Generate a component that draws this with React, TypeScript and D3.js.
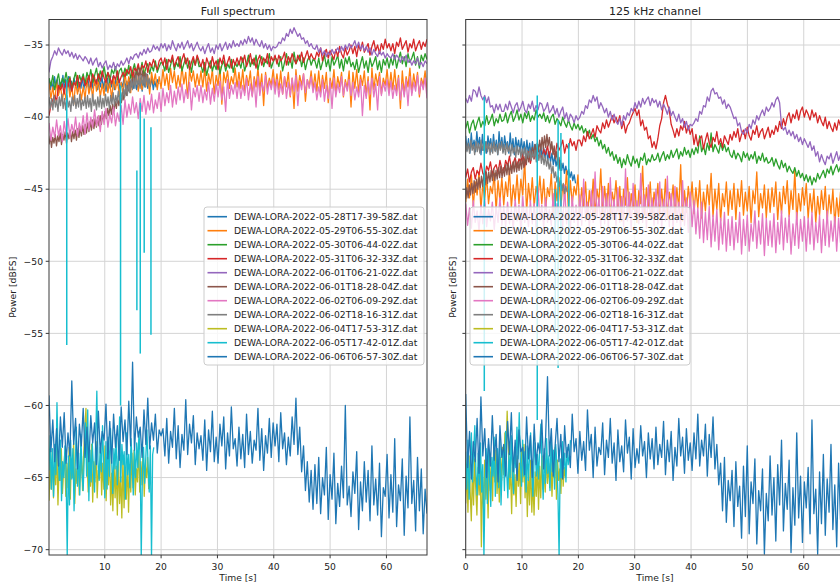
import React from 'react';
import * as d3 from 'd3';

// legend entries and tab10 colours (11th wraps to blue)
const fileNames = [
  'DEWA-LORA-2022-05-28T17-39-58Z.dat',
  'DEWA-LORA-2022-05-29T06-55-30Z.dat',
  'DEWA-LORA-2022-05-30T06-44-02Z.dat',
  'DEWA-LORA-2022-05-31T06-32-33Z.dat',
  'DEWA-LORA-2022-06-01T06-21-02Z.dat',
  'DEWA-LORA-2022-06-01T18-28-04Z.dat',
  'DEWA-LORA-2022-06-02T06-09-29Z.dat',
  'DEWA-LORA-2022-06-02T18-16-31Z.dat',
  'DEWA-LORA-2022-06-04T17-53-31Z.dat',
  'DEWA-LORA-2022-06-05T17-42-01Z.dat',
  'DEWA-LORA-2022-06-06T06-57-30Z.dat',
];
const colors = ['#1f77b4', '#ff7f0e', '#2ca02c', '#d62728', '#9467bd', '#8c564b', '#e377c2', '#7f7f7f', '#bcbd22', '#17becf', '#1f77b4'];

const yTicks = [-70, -65, -60, -55, -50, -45, -40, -35];
const xTicksFull = [10, 20, 30, 40, 50, 60];
const xTicksChan = [0, 10, 20, 30, 40, 50, 60];

// recording spans [start, end] in seconds, per file
const spansFull = [[0.1, 19.6], [0.1, 67.2], [0.1, 67.2], [0.1, 67.2], [0.1, 67.2], [0.1, 17.6], [0.1, 67.2], [0.1, 18.1], [0.1, 17.8], [0.1, 18.7], [0.1, 67.2]];
const spansChan = [[0, 19.5], [0, 67.2], [0, 67.2], [0, 67.2], [0, 67.2], [0, 17.0], [0, 67.2], [0, 18.0], [0, 17.7], [0, 18.6], [0, 67.2]];

// ---- Full spectrum power [dBFS] ----
const blueFull = [
  -37.3,-38.1,-37.5,-38.2,-37.2,-37.9,-37.4,-38.3,-37.6,-38.0,-37.1,-38.1,-37.4,-37.9,-37.2,-38.2,-37.5,-38.0,-37.3,-37.8,
  -37.4,-38.2,-37.6,-38.0,-37.2,-38.1,-37.5,-37.9,-37.3,-38.3,-37.6,-38.0,-37.2,-37.8,-37.4,-38.1,-37.5,-37.9,-37.1,-38.0,
  -37.5,-38.2,-37.3,-38.0,-37.6,-37.9,-37.2,-38.1,-37.4,-37.8,-37.3,-38.2,-37.6,-37.9,-37.2,-38.0,-37.5,-38.1,-37.3,-37.9,
  -37.4,-38.0,-37.2,-38.1,-37.6,-37.8,-37.3,-38.2,-37.5,-37.9,-37.2,-38.0,-37.4,-37.8,-37.3,-38.1,-37.5,-37.9,-37.4,-37.7];
const orangeFull = [
  -37.6,-38.7,-37.9,-39.0,-37.5,-38.5,-37.7,-38.9,-38.0,-38.8,-37.4,-38.6,-37.8,-39.1,-37.6,-38.4,-37.7,-38.8,-37.9,-38.7,
  -37.3,-38.4,-37.6,-38.7,-37.2,-38.2,-37.4,-38.6,-37.7,-38.5,-37.1,-38.3,-37.5,-38.8,-37.3,-38.1,-37.4,-38.5,-37.6,-38.4,
  -36.9,-38.0,-37.2,-38.3,-36.8,-37.8,-37.0,-38.2,-37.3,-38.1,-36.7,-37.9,-37.1,-38.4,-36.9,-37.7,-37.0,-38.1,-37.2,-38.0,
  -36.7,-37.8,-37.0,-38.1,-36.6,-37.6,-36.8,-38.0,-37.1,-37.9,-36.5,-37.7,-36.9,-38.7,-36.7,-37.5,-36.8,-37.9,-37.0,-37.8,
  -36.8,-37.9,-36.6,-38.2,-37.0,-37.7,-36.7,-38.4,-37.1,-37.8,-36.5,-39.1,-36.9,-37.6,-36.8,-38.0,-37.2,-37.7,-36.6,-37.9,
  -36.9,-38.0,-36.7,-38.3,-37.1,-37.8,-36.8,-38.5,-37.2,-37.9,-36.6,-38.1,-37.0,-39.2,-36.9,-38.0,-37.3,-37.8,-36.7,-38.0,
  -37.0,-38.1,-36.8,-38.4,-37.2,-37.9,-36.9,-38.6,-37.3,-39.4,-36.7,-38.2,-37.1,-37.8,-37.0,-38.9,-37.4,-37.9,-36.8,-38.1,
  -37.0,-38.2,-36.8,-38.3,-37.1,-38.0,-36.9,-39.0,-37.3,-38.0,-36.7,-38.4,-37.2,-37.9,-36.9,-38.6,-37.4,-38.0,-36.8,-39.3,
  -36.9,-38.0,-36.7,-38.3,-37.1,-37.8,-36.8,-38.5,-37.2,-39.5,-36.6,-38.1,-37.0,-37.8,-36.9,-38.4,-37.3,-37.8,-36.7,-38.2,
  -36.9,-38.1,-36.7,-38.2,-37.1,-39.4,-36.8,-38.4,-37.2,-37.9,-36.6,-38.3,-37.0,-37.9,-36.9,-38.6,-37.3,-37.8,-36.8,-38.2];
const greenFull = [
  -37.3,-37.8,-37.1,-38.1,-37.5,-37.0,-37.9,-37.3,-37.6,-36.9,-37.7,-37.2,-38.0,-37.4,-36.9,-37.8,-37.1,-37.5,-37.0,-37.7,
  -36.9,-37.4,-36.7,-37.6,-37.1,-36.6,-37.5,-36.8,-37.2,-36.5,-37.3,-36.9,-37.6,-36.7,-37.0,-36.5,-37.4,-36.8,-36.6,-37.2,
  -36.6,-37.1,-36.4,-37.3,-36.8,-36.3,-37.0,-36.5,-36.9,-36.2,-37.1,-36.6,-36.3,-37.0,-36.4,-36.8,-36.1,-36.9,-36.5,-36.2,
  -36.3,-36.8,-36.0,-36.9,-36.4,-35.9,-36.7,-36.2,-36.5,-35.8,-36.8,-36.3,-35.9,-36.6,-36.1,-36.9,-36.0,-36.4,-35.8,-36.5,
  -36.4,-36.9,-36.2,-37.1,-36.5,-36.1,-36.8,-36.3,-36.7,-36.0,-37.0,-36.4,-36.1,-36.8,-36.3,-36.6,-36.0,-36.9,-36.2,-36.5,
  -36.1,-36.6,-35.9,-36.8,-36.3,-35.7,-36.5,-36.0,-36.4,-35.7,-36.7,-36.1,-35.8,-36.5,-36.0,-36.3,-35.6,-36.6,-36.2,-35.9,
  -36.0,-36.5,-35.8,-36.8,-36.2,-35.6,-36.4,-35.9,-36.6,-35.5,-36.3,-36.0,-35.7,-36.5,-35.9,-36.7,-36.1,-35.8,-36.4,-36.0,
  -36.1,-36.6,-35.9,-36.7,-36.2,-35.7,-36.5,-36.0,-36.8,-35.8,-36.4,-36.1,-35.7,-36.6,-36.0,-36.8,-35.9,-36.3,-35.8,-36.5,
  -36.2,-36.7,-36.0,-36.9,-36.3,-35.8,-36.6,-36.1,-36.9,-35.9,-36.5,-36.2,-35.8,-36.7,-36.1,-36.9,-36.0,-36.4,-35.9,-36.6,
  -35.9,-36.4,-35.7,-36.6,-36.0,-35.5,-36.3,-35.8,-36.5,-35.6,-36.2,-35.9,-35.5,-36.4,-35.8,-36.6,-35.7,-36.1,-35.6,-36.0];
const redFull = [
  -39.9,-39.2,-38.8,-38.5,-38.9,-37.8,-38.1,-37.7,-38.4,-37.5,-37.9,-37.3,-38.2,-37.6,-37.8,-37.1,-37.9,-37.5,-37.2,-37.8,
  -37.6,-37.1,-37.9,-37.0,-37.4,-37.7,-37.0,-37.5,-36.8,-37.3,-37.6,-36.9,-37.2,-37.7,-37.1,-37.4,-36.8,-37.6,-37.2,-36.9,
  -37.2,-36.7,-37.0,-36.5,-37.3,-36.6,-36.8,-36.3,-37.0,-36.4,-36.6,-36.1,-36.9,-36.2,-36.5,-36.0,-36.4,-36.7,-36.1,-35.9,
  -36.4,-35.9,-36.7,-36.0,-36.2,-35.7,-36.5,-36.1,-35.8,-36.6,-36.0,-35.6,-36.3,-35.9,-36.7,-36.2,-35.8,-36.4,-35.7,-36.1,
  -36.5,-36.0,-36.8,-35.9,-36.3,-36.6,-35.8,-36.4,-36.1,-36.7,-35.9,-36.3,-35.7,-36.5,-36.2,-35.8,-36.6,-36.0,-36.4,-35.9,
  -36.4,-35.8,-36.2,-35.7,-36.5,-36.1,-35.6,-36.3,-35.9,-36.6,-36.0,-35.7,-36.4,-35.9,-36.2,-35.6,-36.5,-35.8,-36.1,-35.7,
  -36.3,-35.7,-36.1,-35.9,-35.5,-36.4,-35.8,-36.2,-35.6,-36.0,-36.3,-35.7,-36.1,-35.5,-36.2,-35.8,-35.4,-36.0,-35.6,-35.9,
  -36.0,-35.5,-35.8,-35.2,-36.1,-35.6,-35.3,-35.9,-35.4,-35.7,-36.0,-35.3,-35.8,-35.1,-35.6,-35.9,-35.2,-35.7,-35.4,-35.0,
  -35.6,-35.1,-35.8,-35.0,-35.4,-34.8,-35.5,-35.2,-34.9,-35.7,-35.1,-34.7,-35.4,-35.0,-35.6,-34.9,-35.3,-34.6,-35.2,-34.9,
  -35.4,-34.9,-35.6,-34.8,-35.1,-34.5,-35.3,-35.0,-34.7,-35.5,-34.9,-35.2,-34.6,-35.4,-35.0,-34.7,-35.3,-34.8,-35.1,-34.6];
const purpleFull = [
  -36.9,-36.1,-35.8,-35.4,-35.7,-35.2,-35.5,-35.7,-35.3,-35.6,-35.4,-35.8,-35.5,-35.9,-35.6,-36.0,-35.7,-35.9,-36.1,-35.8,
  -36.0,-36.3,-35.9,-36.4,-36.1,-35.9,-36.5,-36.2,-36.6,-36.3,-36.1,-36.7,-36.4,-36.6,-36.2,-36.7,-36.3,-36.5,-36.1,-36.4,
  -36.2,-35.9,-36.3,-35.8,-36.0,-35.7,-35.6,-35.9,-35.5,-35.7,-35.3,-35.6,-35.2,-35.5,-35.4,-35.0,-35.3,-35.1,-35.4,-34.9,
  -35.2,-34.9,-35.4,-35.0,-35.3,-34.7,-35.1,-35.4,-34.9,-35.2,-34.8,-35.3,-35.0,-34.7,-35.2,-34.9,-35.4,-35.1,-34.8,-35.2,
  -35.4,-35.1,-35.6,-35.2,-34.9,-35.5,-35.2,-35.6,-35.0,-35.3,-34.9,-35.4,-35.1,-34.8,-35.3,-34.9,-35.2,-34.7,-35.1,-34.9,
  -35.1,-34.7,-35.0,-34.6,-34.9,-34.4,-34.8,-34.5,-35.0,-34.6,-34.9,-35.1,-34.7,-35.2,-34.9,-35.3,-35.0,-35.4,-35.1,-35.2,
  -35.1,-34.8,-34.9,-34.5,-34.7,-34.2,-34.4,-33.9,-34.2,-33.8,-34.1,-34.4,-34.2,-34.6,-34.5,-34.9,-34.7,-35.1,-34.9,-35.2,
  -35.3,-35.0,-35.5,-35.2,-35.7,-35.4,-35.8,-35.5,-35.7,-35.3,-35.6,-35.4,-35.2,-35.5,-35.1,-35.4,-35.0,-35.3,-34.9,-35.2,
  -35.0,-34.7,-35.2,-34.8,-35.3,-35.0,-35.4,-35.1,-35.5,-35.2,-35.7,-35.3,-35.6,-35.8,-35.4,-35.7,-35.5,-35.9,-35.6,-35.8,
  -35.9,-35.6,-36.0,-35.7,-35.9,-36.2,-35.8,-36.1,-35.7,-36.2,-36.0,-36.4,-36.1,-36.3,-35.9,-36.4,-36.2,-36.5,-36.1,-36.3];
const brownFull = [
  -41.9,-41.3,-42.1,-41.4,-41.8,-41.2,-42.0,-41.3,-41.7,-41.1,-41.9,-41.2,-41.6,-41.0,-41.8,-41.1,-41.5,-40.9,-41.7,-41.0,
  -41.5,-40.9,-41.6,-40.8,-41.4,-40.7,-41.3,-40.6,-41.2,-40.5,-41.1,-40.4,-41.0,-40.3,-40.9,-40.2,-40.8,-40.1,-40.7,-40.0,
  -40.6,-39.9,-40.5,-39.8,-40.3,-39.6,-40.1,-39.4,-39.9,-39.2,-39.8,-39.1,-39.6,-38.9,-39.4,-38.7,-39.2,-38.5,-39.0,-38.3,
  -38.8,-38.1,-38.5,-37.8,-38.2,-37.5,-37.9,-37.2,-37.6,-36.9,-37.4,-36.7,-37.3,-36.6,-37.4,-36.8,-37.5,-36.9,-37.4,-37.0];
const pinkFull = [
  -40.4,-41.6,-40.7,-41.4,-40.2,-41.3,-40.6,-41.7,-40.3,-41.2,-40.1,-41.4,-40.5,-41.1,-40.0,-41.3,-40.4,-41.0,-39.9,-41.2,
  -39.7,-40.9,-40.0,-40.7,-39.5,-40.6,-39.9,-41.0,-39.6,-40.5,-39.4,-40.7,-39.8,-40.4,-39.3,-40.6,-39.7,-40.3,-39.2,-40.5,
  -38.8,-40.0,-39.1,-39.8,-38.6,-39.7,-39.0,-40.1,-38.7,-39.6,-38.5,-39.8,-38.9,-39.5,-38.4,-39.7,-38.8,-39.4,-38.3,-39.6,
  -38.0,-39.2,-38.3,-39.0,-37.8,-39.3,-38.2,-39.1,-37.9,-38.8,-37.7,-39.0,-38.1,-38.7,-37.6,-39.5,-38.0,-38.6,-37.8,-38.9,
  -37.8,-39.0,-38.1,-38.8,-37.6,-39.1,-38.0,-38.9,-37.7,-38.6,-37.5,-38.8,-37.9,-39.6,-37.4,-38.7,-37.8,-38.4,-37.6,-38.7,
  -37.5,-38.7,-37.8,-38.5,-37.3,-38.8,-37.7,-38.6,-37.4,-39.3,-37.2,-38.5,-37.6,-38.2,-37.1,-38.4,-37.5,-38.1,-37.3,-38.4,
  -37.4,-38.6,-37.7,-38.4,-37.2,-38.7,-37.6,-38.5,-37.3,-38.2,-37.1,-39.2,-37.5,-38.1,-37.0,-38.3,-37.4,-38.0,-37.2,-38.3,
  -37.6,-38.8,-37.9,-38.6,-37.4,-38.9,-37.8,-38.7,-37.5,-39.4,-37.3,-38.6,-37.7,-38.3,-37.2,-38.5,-37.6,-38.2,-37.4,-38.5,
  -37.6,-38.8,-37.9,-38.6,-37.4,-39.9,-37.8,-38.7,-37.5,-38.4,-37.3,-38.6,-37.7,-39.5,-37.2,-38.5,-37.6,-38.2,-37.4,-38.5,
  -37.5,-38.7,-37.8,-38.5,-37.3,-38.8,-37.7,-38.6,-37.4,-39.2,-37.2,-38.5,-37.6,-38.2,-37.1,-38.4,-37.5,-38.1,-37.3,-38.7];
const grayFull = [
  -38.6,-39.4,-38.7,-39.5,-38.5,-39.3,-38.8,-39.6,-38.6,-39.2,-38.4,-39.4,-38.7,-39.5,-38.5,-39.3,-38.9,-39.6,-38.6,-39.2,
  -38.5,-39.4,-38.7,-39.3,-38.4,-39.5,-38.8,-39.2,-38.6,-39.4,-38.5,-39.3,-38.7,-39.6,-38.4,-39.2,-38.8,-39.5,-38.6,-39.3,
  -38.5,-39.4,-38.7,-39.3,-38.4,-39.2,-38.6,-39.4,-38.5,-39.1,-38.3,-39.2,-38.5,-39.0,-38.2,-38.9,-38.3,-38.8,-38.0,-38.6,
  -37.8,-38.5,-37.6,-38.3,-37.4,-38.1,-37.3,-38.0,-37.1,-37.9,-37.2,-38.0,-37.1,-37.8,-37.2,-37.9,-37.0,-37.8,-37.3,-37.9];
const oliveFull = [
  -66.6,-63.9,-65.8,-63.2,-66.4,-64.1,-65.5,-62.8,-66.9,-64.3,-65.2,-63.0,-66.1,-64.6,-63.4,
  -66.3,-64.0,-65.7,-62.9,-66.5,-63.7,-65.0,-62.6,-66.8,-64.4,-65.4,-63.1,-66.2,-64.8,-63.5,
  -65.9,-63.3,-61.6,-60.2,-63.8,-66.0,-64.2,-65.6,-62.7,-66.7,-63.9,-65.3,-62.5,-66.4,-64.5,
  -65.1,-63.0,-66.2,-64.0,-65.8,-62.8,-66.6,-63.6,-65.5,-63.2,-66.9,-64.7,-67.3,-63.9,-66.4,
  -64.2,-67.6,-63.5,-66.8,-64.9,-67.8,-63.7,-67.1,-64.4,-66.5,-63.8,-67.4,-64.1,-66.0,-63.3,
  -65.7,-63.1,-66.2,-64.4,-65.3,-62.6,-66.0,-63.9,-65.5,-62.9,-66.3,-64.2,-65.0,-63.6,-65.8];
const cyanFull = [
  -64.5,-62.1,-65.8,-63.0,-66.3,-62.7,-64.8,-59.8,-63.6,-65.2,-62.4,-66.6,-63.9,-65.0,-62.8,
  -64.7,-70.4,-63.5,-66.9,-62.4,-65.1,-63.0,-67.3,-64.2,-61.5,-65.6,-63.3,-66.2,-62.0,-64.7,
  -65.9,-63.5,-61.2,-64.9,-60.3,-66.6,-63.1,-65.3,-62.6,-64.4,-66.0,-62.3,-59.0,-63.8,-65.2,
  -62.9,-64.6,-61.4,-63.9,-66.4,-62.5,-65.8,-62.2,-64.9,-61.6,-63.7,-66.1,-63.0,-64.4,-62.0,
  -65.5,-63.6,-60.8,-65.3,-62.7,-64.1,-63.2,-66.5,-61.9,-64.8,-63.4,-65.7,-62.3,-64.0,-66.2,
  -63.1,-65.0,-62.6,-64.3,-61.8,-63.5,-70.5,-64.7,-62.9,-65.4,-63.6,-61.7,-64.2,-66.0,-62.8,
  -70.5,-63.4,-62.9];
const blue2Full = [
  -59.3,-63.2,-61.0,-63.9,-61.6,-64.2,-60.8,-62.9,-60.5,-64.0,-61.9,-63.5,-58.3,-62.7,-60.9,-64.4,-61.3,-62.8,-60.2,-63.6,
  -61.5,-63.9,-60.7,-62.6,-61.2,-64.1,-60.4,-63.3,-61.8,-62.4,-59.9,-63.7,-61.1,-64.0,-60.6,-62.9,-61.4,-63.8,-60.1,-62.5,
  -61.0,-63.4,-59.7,-62.8,-57.0,-63.1,-60.8,-62.2,-61.5,-63.6,-60.3,-62.7,-59.5,-63.0,-61.2,-62.4,-60.6,-63.3,-61.7,-62.1,
  -61.6,-63.5,-60.9,-64.0,-61.8,-62.9,-60.2,-63.7,-61.4,-64.3,-62.0,-63.1,-59.6,-63.4,-61.3,-62.6,-60.7,-64.1,-61.9,-63.0,
  -62.1,-63.8,-61.0,-64.5,-61.7,-63.2,-60.4,-63.9,-62.2,-64.0,-61.3,-62.8,-60.8,-64.4,-61.9,-63.5,-60.1,-63.0,-62.3,-64.2,
  -61.5,-63.7,-62.0,-64.3,-60.6,-63.4,-61.8,-64.0,-62.4,-63.1,-60.2,-63.8,-61.6,-64.5,-62.1,-63.3,-60.9,-63.6,-61.2,-62.8,
  -61.3,-63.9,-60.5,-63.0,-61.9,-64.1,-62.2,-63.5,-60.8,-62.7,-59.5,-63.4,-61.5,-64.6,-62.8,-65.9,-63.9,-66.7,-64.5,-67.2,
  -64.1,-66.8,-63.6,-67.5,-65.0,-66.2,-62.9,-67.9,-64.8,-66.5,-63.3,-68.2,-65.4,-67.0,-64.2,-66.4,-60.0,-66.9,-65.6,-67.7,
  -64.6,-66.1,-63.2,-68.6,-65.3,-67.3,-63.9,-66.7,-64.5,-68.0,-62.8,-66.9,-65.1,-67.6,-64.0,-69.1,-65.7,-66.3,-63.4,-67.8,
  -64.8,-67.4,-62.3,-68.4,-65.5,-66.6,-63.7,-69.0,-64.9,-67.1,-60.8,-66.8,-65.2,-68.7,-63.6,-67.3,-64.4,-68.9,-65.8,-67.5];
// short cyan bursts: time, top and bottom of the burst [dBFS]
const burstsFull = [
  { t: 3.25, hi: -37.4, lo: -55.8 },
  { t: 12.8, hi: -37.8, lo: -60.0 },
  { t: 15.7, hi: -43.7, lo: -53.4 },
  { t: 16.3, hi: -39.0, lo: -56.4 },
  { t: 17.0, hi: -40.1, lo: -49.4 },
  { t: 18.2, hi: -40.7, lo: -55.1 },
];

// ---- 125 kHz channel power [dBFS] ----
const blueChan = [
  -41.3,-42.3,-41.5,-42.5,-41.1,-42.2,-41.6,-42.4,-41.0,-42.1,-41.4,-42.6,-41.2,-42.3,-41.7,-42.5,-41.3,-42.0,-41.5,-42.4,
  -41.2,-42.3,-41.6,-42.6,-41.0,-42.2,-41.4,-42.4,-41.3,-42.1,-41.7,-42.5,-41.1,-42.3,-41.5,-42.6,-41.4,-42.2,-41.6,-42.4,
  -41.5,-42.4,-41.7,-42.6,-41.6,-42.5,-41.8,-42.7,-41.7,-42.6,-41.9,-42.8,-41.9,-42.7,-42.0,-42.9,-42.1,-42.8,-42.2,-43.0,
  -42.4,-43.1,-42.5,-43.3,-42.7,-43.4,-42.9,-43.6,-43.0,-43.7,-43.2,-43.9,-43.4,-44.0,-43.6,-44.2,-43.8,-44.4,-44.0,-44.6];
const orangeChan = [
  -45.9,-44.3,-45.6,-44.0,-46.2,-44.5,-45.4,-43.8,-46.4,-44.6,-45.7,-44.1,-46.0,-44.8,-45.3,-43.9,-46.5,-44.4,-45.8,-44.2,
  -46.1,-44.5,-45.5,-43.6,-46.3,-44.7,-45.8,-44.0,-46.0,-44.3,-45.4,-42.9,-46.6,-44.6,-45.9,-44.2,-46.2,-44.8,-45.6,-44.1,
  -46.0,-44.3,-46.4,-44.9,-45.5,-43.9,-46.7,-44.5,-45.8,-44.2,-46.3,-44.7,-45.6,-43.7,-46.5,-44.4,-46.0,-44.8,-45.4,-44.0,
  -46.6,-44.9,-46.2,-44.5,-47.0,-45.1,-46.4,-44.3,-46.8,-45.0,-45.9,-43.6,-46.7,-44.8,-46.3,-44.6,-47.1,-45.2,-46.0,-44.4,
  -46.5,-44.8,-47.2,-45.0,-46.1,-44.2,-46.9,-45.3,-46.4,-44.7,-47.3,-45.1,-46.0,-43.4,-46.8,-44.9,-46.3,-44.5,-47.0,-45.2,
  -46.2,-44.6,-46.9,-45.0,-46.5,-44.3,-47.1,-45.2,-46.0,-44.7,-46.8,-44.9,-46.4,-43.3,-47.2,-45.1,-46.6,-44.8,-46.1,-44.5,
  -46.7,-44.9,-46.3,-44.4,-47.0,-45.2,-46.5,-44.7,-46.1,-43.9,-46.9,-45.0,-46.4,-44.6,-47.2,-45.3,-46.2,-44.5,-46.8,-45.1,
  -46.4,-44.6,-47.1,-45.0,-46.2,-44.4,-46.8,-45.2,-46.5,-44.8,-47.3,-45.1,-46.0,-43.8,-46.9,-45.3,-46.3,-44.7,-47.0,-45.0,
  -46.6,-44.9,-46.2,-44.5,-47.1,-45.2,-46.7,-44.8,-46.0,-44.4,-46.9,-45.1,-46.4,-43.7,-47.2,-45.3,-46.5,-44.9,-46.1,-44.6,
  -47.0,-45.3,-46.6,-45.0,-47.3,-45.5,-46.8,-45.1,-46.4,-44.8,-47.2,-45.4,-46.7,-45.0,-47.5,-45.6,-46.9,-45.2,-46.5,-45.1];
const greenChan = [
  -40.8,-40.3,-41.1,-40.5,-40.2,-40.9,-40.4,-40.0,-40.7,-40.3,-40.6,-39.9,-40.5,-40.2,-39.8,-40.6,-40.1,-40.4,-39.8,-40.3,
  -40.2,-39.7,-40.4,-39.9,-39.6,-40.3,-40.0,-39.5,-40.2,-39.8,-40.4,-39.7,-40.1,-39.6,-40.3,-39.9,-40.2,-39.5,-40.0,-39.8,
  -40.1,-39.7,-40.3,-39.9,-40.4,-40.0,-39.8,-40.5,-40.1,-40.3,-40.6,-40.0,-40.4,-40.7,-40.2,-40.6,-40.9,-40.4,-40.8,-40.5,
  -40.9,-40.6,-41.1,-40.8,-41.3,-40.9,-41.5,-41.2,-41.7,-41.4,-42.0,-41.6,-42.2,-41.9,-42.5,-42.1,-42.7,-42.4,-43.0,-42.6,
  -43.2,-42.8,-43.5,-42.9,-43.3,-42.6,-43.1,-43.4,-42.7,-43.2,-42.9,-43.5,-42.8,-43.0,-42.5,-43.3,-42.9,-43.1,-42.6,-43.0,
  -42.9,-42.5,-43.1,-42.7,-42.4,-43.0,-42.6,-42.9,-42.3,-42.8,-42.5,-42.2,-42.9,-42.4,-42.7,-42.1,-42.6,-42.3,-42.8,-42.2,
  -42.6,-42.1,-42.5,-41.3,-42.4,-42.0,-42.6,-41.8,-42.3,-41.1,-42.4,-41.9,-42.2,-42.5,-41.8,-42.3,-41.9,-42.4,-42.1,-42.6,
  -42.8,-42.3,-42.9,-42.5,-42.7,-43.1,-42.4,-42.8,-42.5,-43.0,-42.6,-42.9,-42.4,-43.2,-42.7,-43.0,-42.5,-43.1,-42.8,-43.2,
  -43.1,-42.8,-43.4,-42.9,-43.3,-43.6,-43.0,-43.5,-43.2,-43.8,-43.4,-43.7,-43.9,-43.5,-44.1,-43.7,-44.2,-43.9,-44.4,-44.0,
  -44.5,-44.1,-44.7,-44.2,-44.5,-43.9,-44.3,-44.0,-43.7,-44.2,-43.6,-43.9,-43.4,-44.0,-43.6,-43.3,-43.8,-43.4,-43.7,-43.3];
const redChan = [
  -44.2,-43.6,-44.5,-43.8,-43.5,-44.3,-43.7,-44.0,-43.2,-43.9,-44.2,-43.4,-43.7,-43.1,-44.0,-43.5,-43.3,-43.9,-43.0,-43.6,
  -43.8,-43.0,-43.4,-42.7,-43.6,-43.2,-42.8,-43.5,-42.9,-43.1,-42.5,-43.4,-42.8,-42.4,-43.2,-42.6,-42.9,-42.3,-42.8,-42.5,
  -42.9,-42.2,-42.6,-42.0,-42.8,-41.9,-42.4,-42.7,-41.8,-42.3,-42.0,-41.6,-42.5,-41.9,-42.2,-41.5,-42.0,-41.7,-42.3,-41.6,
  -41.6,-42.0,-41.3,-41.7,-41.0,-41.5,-41.2,-40.8,-41.4,-40.6,-40.9,-41.1,-40.4,-40.8,-40.2,-40.7,-40.3,-39.9,-40.4,-40.0,
  -40.4,-39.9,-40.8,-40.3,-41.1,-40.6,-40.4,-40.0,-39.7,-39.4,-39.9,-39.5,-40.6,-40.2,-40.9,-40.7,-41.5,-41.3,-42.1,-41.7,
  -42.2,-41.5,-40.6,-40.1,-39.0,-38.5,-39.1,-39.5,-40.5,-40.9,-41.4,-40.8,-41.3,-40.6,-40.9,-40.3,-41.1,-40.6,-41.2,-40.8,
  -41.9,-41.2,-42.0,-41.5,-41.3,-42.2,-41.6,-41.1,-41.8,-42.1,-41.4,-41.7,-41.0,-41.9,-41.5,-42.1,-41.3,-41.6,-41.9,-41.2,
  -41.6,-41.0,-41.4,-40.8,-41.7,-41.2,-40.9,-41.5,-40.7,-41.3,-41.6,-40.9,-41.2,-40.6,-41.4,-41.0,-40.8,-41.5,-41.1,-40.7,
  -41.4,-40.9,-41.2,-40.6,-41.0,-40.3,-40.8,-40.1,-40.6,-40.0,-39.7,-40.4,-39.8,-40.1,-39.5,-40.2,-39.6,-39.3,-40.0,-39.5,
  -39.8,-40.2,-39.5,-40.0,-39.7,-40.4,-39.9,-40.3,-40.6,-40.0,-40.8,-40.3,-40.7,-41.0,-40.4,-40.9,-40.2,-40.6,-40.9,-40.3];
const purpleChan = [
  -38.7,-39.0,-38.5,-38.9,-38.1,-38.2,-38.6,-37.9,-38.5,-38.8,-38.5,-39.0,-38.6,-39.3,-39.2,-39.7,-39.1,-39.5,-39.1,-39.6,
  -39.6,-39.1,-39.5,-38.9,-39.3,-39.7,-39.2,-39.0,-39.6,-39.3,-38.9,-39.5,-39.7,-39.1,-39.4,-38.9,-39.6,-39.2,-39.5,-39.0,
  -39.1,-39.6,-39.4,-39.0,-39.7,-39.5,-39.2,-39.8,-39.4,-40.0,-39.6,-39.3,-40.1,-39.7,-40.3,-39.8,-40.0,-40.4,-39.9,-40.2,
  -40.0,-39.6,-39.8,-39.2,-39.4,-38.8,-39.0,-38.5,-38.9,-38.6,-39.4,-39.0,-39.3,-39.7,-39.4,-40.0,-39.6,-40.2,-39.8,-40.3,
  -40.5,-40.1,-40.6,-39.9,-40.2,-39.7,-39.9,-39.4,-39.6,-39.0,-39.4,-38.9,-39.3,-38.7,-39.1,-38.8,-38.6,-39.2,-38.7,-39.0,
  -38.8,-39.3,-38.9,-39.5,-39.1,-39.4,-39.8,-39.3,-39.9,-39.6,-40.0,-40.3,-39.8,-40.4,-40.1,-40.7,-40.3,-40.9,-40.5,-40.6,
  -40.4,-40.1,-40.3,-39.6,-39.8,-39.2,-39.3,-38.6,-38.9,-38.2,-38.0,-38.4,-38.3,-38.7,-38.6,-39.1,-38.8,-39.4,-39.1,-39.3,
  -39.7,-40.1,-40.0,-40.6,-40.4,-41.0,-41.2,-40.8,-41.1,-40.5,-40.8,-40.2,-40.5,-39.9,-40.2,-39.8,-39.5,-39.9,-39.3,-39.6,
  -39.4,-39.0,-39.3,-38.8,-38.6,-39.0,-40.6,-40.9,-40.7,-41.2,-40.9,-41.3,-41.0,-41.5,-41.2,-41.7,-41.4,-41.9,-41.5,-41.8,
  -42.1,-41.7,-42.3,-42.0,-42.7,-42.4,-43.1,-42.6,-43.0,-43.3,-42.7,-42.9,-42.5,-43.2,-42.8,-42.4,-43.0,-42.6,-42.9,-42.7];
const brownChan = [
  -45.7,-44.9,-45.6,-44.7,-45.4,-44.6,-45.3,-44.4,-45.2,-44.3,-45.0,-44.2,-44.9,-44.1,-44.8,-43.9,-44.7,-43.8,-44.6,-43.8,
  -44.5,-43.7,-44.4,-43.6,-44.4,-43.7,-44.3,-43.5,-44.2,-43.4,-44.2,-43.5,-44.1,-43.3,-44.0,-43.2,-44.0,-43.3,-43.9,-43.1,
  -43.8,-43.0,-43.8,-43.1,-43.7,-42.9,-43.6,-42.8,-43.5,-42.7,-43.3,-42.5,-43.1,-42.3,-42.9,-42.1,-42.7,-41.9,-42.6,-41.8,
  -42.4,-41.6,-42.3,-41.4,-42.2,-41.3,-42.1,-41.2,-42.0,-41.4,-42.3,-41.7,-42.6,-42.0,-42.9,-42.4,-43.3,-42.8,-43.7,-43.2];
const pinkChan = [
  -46.0,-47.5,-46.3,-47.7,-45.8,-47.3,-46.5,-47.9,-46.1,-47.4,-45.7,-47.6,-46.4,-47.2,-45.9,-47.8,-46.2,-47.3,-45.6,-47.5,
  -46.2,-47.6,-45.9,-47.4,-46.4,-47.8,-45.7,-47.2,-46.1,-47.9,-45.5,-47.3,-46.3,-47.6,-45.8,-47.4,-46.0,-47.7,-44.9,-47.2,
  -46.1,-47.7,-45.6,-47.3,-46.4,-47.5,-45.3,-47.8,-46.0,-47.2,-45.8,-47.6,-44.7,-47.4,-46.2,-47.9,-45.5,-47.3,-46.1,-47.6,
  -45.4,-47.5,-44.3,-47.2,-45.9,-47.7,-45.1,-47.3,-43.8,-47.0,-45.6,-47.6,-44.8,-47.4,-45.3,-47.8,-44.2,-47.1,-45.7,-47.5,
  -44.9,-47.3,-45.5,-47.6,-43.6,-47.2,-45.2,-47.8,-44.6,-47.0,-45.8,-47.4,-43.9,-47.3,-45.4,-47.7,-44.7,-47.1,-45.6,-47.5,
  -45.0,-47.4,-44.5,-47.8,-45.7,-47.2,-44.1,-47.6,-45.3,-47.9,-44.8,-47.3,-45.9,-47.7,-44.4,-47.5,-45.6,-48.0,-45.2,-47.6,
  -45.8,-48.1,-46.3,-48.4,-45.9,-48.7,-46.6,-48.5,-46.2,-49.0,-46.8,-48.6,-46.4,-49.2,-47.0,-48.8,-46.6,-49.3,-47.1,-48.9,
  -46.9,-49.2,-47.3,-48.7,-46.6,-49.5,-47.1,-48.9,-46.8,-49.3,-47.4,-48.6,-46.5,-49.1,-47.2,-48.8,-46.7,-49.6,-47.0,-48.9,
  -47.2,-49.0,-46.7,-49.4,-47.3,-48.8,-46.5,-49.2,-47.0,-48.7,-46.8,-49.5,-47.4,-48.9,-46.6,-49.1,-47.1,-48.6,-46.9,-49.3,
  -47.0,-48.8,-46.6,-49.2,-47.3,-48.7,-46.8,-49.4,-47.1,-48.9,-46.5,-49.0,-47.2,-48.6,-46.9,-49.3,-47.0,-48.7,-47.3,-49.1];
const grayChan = [
  -41.7,-42.4,-41.8,-42.5,-41.6,-42.3,-41.9,-42.6,-41.7,-42.4,-41.8,-42.5,-41.6,-42.3,-41.9,-42.5,-41.7,-42.4,-41.8,-42.6,
  -41.8,-42.5,-41.7,-42.4,-41.9,-42.6,-41.8,-42.3,-41.7,-42.5,-41.9,-42.6,-41.8,-42.4,-42.0,-42.7,-41.9,-42.5,-42.1,-42.8,
  -42.0,-42.6,-42.1,-42.8,-42.2,-42.7,-42.1,-42.9,-42.3,-42.8,-42.2,-43.0,-42.4,-42.9,-42.3,-43.1,-42.5,-43.0,-42.4,-43.2,
  -42.6,-43.3,-42.7,-43.4,-42.9,-43.6,-43.1,-43.9,-43.4,-44.2,-43.8,-44.5,-44.1,-44.8,-44.4,-45.1,-44.6,-45.3,-44.8,-45.2];
const oliveChan = [
  -66.8,-64.1,-67.4,-63.5,-66.0,-68.0,-64.4,-66.9,-63.7,-65.8,-67.6,-64.3,-66.2,-63.9,-69.8,
  -65.0,-67.2,-63.8,-66.5,-64.6,-67.8,-63.3,-65.9,-64.0,-66.6,-62.8,-65.3,-63.1,-66.1,-64.2,
  -66.7,-63.6,-65.2,-62.9,-64.8,-61.9,-63.4,-60.4,-62.6,-65.8,-64.3,-67.5,-63.7,-66.2,-64.8,
  -67.0,-63.5,-65.6,-64.0,-66.8,-63.2,-65.3,-62.7,-66.4,-64.1,-67.7,-64.4,-66.9,-63.8,-67.4,
  -65.1,-67.6,-64.6,-66.3,-63.9,-67.2,-64.2,-66.4,-63.5,-65.8,-64.8,-66.0,-63.3,-65.4,-64.0,
  -65.7,-63.6,-66.3,-64.1,-65.0,-62.9,-66.5,-63.8,-65.2,-64.4,-66.1,-63.2,-65.6,-64.3,-65.0];
const cyanChan = [
  -63.2,-65.8,-62.4,-66.5,-64.0,-61.9,-65.3,-63.1,-61.4,-64.7,-66.2,-63.3,-65.5,-62.6,-66.0,
  -64.1,-70.5,-65.5,-63.0,-66.8,-62.7,-65.1,-67.0,-63.6,-64.9,-62.2,-66.3,-64.1,-63.0,-65.7,
  -62.5,-66.9,-64.4,-63.2,-65.9,-61.8,-64.6,-66.4,-63.3,-65.0,-62.1,-64.8,-66.1,-62.9,-64.3,
  -61.5,-63.7,-60.5,-63.9,-65.6,-62.4,-64.9,-63.2,-66.0,-62.8,-65.2,-63.6,-61.9,-64.5,-66.3,
  -63.8,-62.6,-64.9,-63.4,-65.1,-62.8,-61.3,-64.2,-66.5,-63.0,-65.4,-62.3,-64.7,-63.5,-65.9,
  -62.2,-64.6,-63.1,-65.8,-62.7,-64.0,-66.2,-70.5,-63.7,-65.0,-62.5,-64.4,-63.3,-65.3,-62.9,
  -64.1,-63.5,-62.4];
const blue2Chan = [
  -59.2,-64.3,-61.8,-65.1,-62.5,-63.9,-60.9,-64.7,-59.4,-63.5,-61.6,-65.0,-62.3,-64.2,-60.7,-63.8,-62.0,-65.3,-61.4,-63.6,
  -62.7,-64.9,-61.1,-63.4,-60.5,-64.6,-62.4,-65.2,-61.7,-63.2,-62.9,-64.8,-60.8,-63.7,-62.1,-65.0,-61.3,-64.1,-62.6,-63.3,
  -61.0,-64.4,-62.2,-58.0,-63.5,-61.6,-64.9,-62.8,-60.9,-63.9,-62.0,-65.1,-61.4,-63.6,-62.7,-64.3,-60.6,-63.2,-62.3,-64.7,
  -61.8,-63.8,-62.5,-64.5,-60.3,-63.1,-62.0,-65.0,-61.5,-64.2,-62.9,-63.4,-61.2,-64.8,-62.4,-63.6,-60.9,-64.0,-62.6,-65.2,
  -61.7,-63.9,-62.8,-64.6,-61.0,-63.3,-62.2,-65.1,-61.6,-64.3,-63.0,-64.0,-61.4,-63.5,-62.5,-65.0,-61.9,-63.7,-62.3,-64.4,
  -61.5,-64.1,-62.7,-63.6,-61.1,-64.8,-62.4,-63.9,-61.8,-65.2,-62.9,-64.2,-60.9,-63.5,-62.2,-64.7,-61.6,-63.8,-62.6,-64.5,
  -61.9,-63.7,-60.6,-64.2,-62.4,-63.5,-61.3,-64.9,-62.0,-63.6,-60.8,-64.4,-62.7,-65.5,-64.0,-67.3,-63.6,-68.1,-65.2,-66.6,
  -64.5,-68.4,-63.9,-67.0,-65.6,-69.2,-64.2,-67.7,-62.8,-68.9,-65.3,-66.8,-63.7,-69.6,-65.9,-67.3,-64.4,-70.3,-66.1,-68.0,
  -63.5,-67.6,-65.0,-69.4,-64.1,-66.9,-62.4,-68.7,-65.4,-67.2,-63.8,-70.2,-65.7,-68.3,-61.9,-67.8,-64.9,-69.5,-65.3,-67.1,
  -64.3,-68.9,-61.0,-67.5,-65.8,-70.3,-64.6,-68.2,-63.4,-69.0,-65.1,-67.4,-62.7,-68.6,-65.5,-69.8,-64.0,-67.9,-65.9,-68.4];
const burstsChan = [
  { t: 3.3, hi: -38.6, lo: -59.0 },
  { t: 12.7, hi: -38.5, lo: -61.0 },
  { t: 15.9, hi: -45.0, lo: -55.0 },
  { t: 16.4, hi: -40.2, lo: -57.4 },
  { t: 16.9, hi: -41.1, lo: -52.0 },
  { t: 18.3, hi: -41.8, lo: -50.0 },
];

const seriesFull = [blueFull, orangeFull, greenFull, redFull, purpleFull, brownFull, pinkFull, grayFull, oliveFull, cyanFull, blue2Full];
const seriesChan = [blueChan, orangeChan, greenChan, redChan, purpleChan, brownChan, pinkChan, grayChan, oliveChan, cyanChan, blue2Chan];

const FONT = 'DejaVu Sans, sans-serif';
const TOP = 19.5;
const BOTTOM = 555;

type Burst = { t: number; hi: number; lo: number };

function Panel(props: {
  id: string; title: string; left: number; right: number; xDomain: [number, number];
  xTicks: number[]; series: number[][]; spans: number[][]; bursts: Burst[];
  legendX: number; yTickLabels: boolean; yLabelX: number;
}) {
  const { id, title, left, right, xDomain, xTicks, series, spans, bursts, legendX, yTickLabels, yLabelX } = props;
  const x = d3.scaleLinear().domain(xDomain).range([left, right]);
  const y = d3.scaleLinear().domain([-70.37, -33.23]).range([BOTTOM, TOP]);
  const line = d3.line<[number, number]>().x(d => x(d[0])).y(d => y(d[1]));
  const fmt = d3.format('d');
  const plotRight = Math.min(right, 840);

  const paths = series.map((vals, k) => {
    const [t0, t1] = spans[k];
    const pts = vals.map((v, i) => [t0 + (i * (t1 - t0)) / (vals.length - 1), v] as [number, number]);
    return line(pts) || '';
  });

  const legendW = 220;
  const rowH = 14;
  const legendTop = 207;

  return (
    <g>
      <defs>
        <clipPath id={id}>
          <rect x={left} y={TOP} width={right - left} height={BOTTOM - TOP} />
        </clipPath>
      </defs>
      {/* grid */}
      {xTicks.map(t => (
        <line key={'gx' + t} x1={x(t)} x2={x(t)} y1={TOP} y2={BOTTOM} stroke="#d4d4d4" strokeWidth={1} />
      ))}
      {yTicks.map(t => (
        <line key={'gy' + t} x1={left} x2={plotRight} y1={y(t)} y2={y(t)} stroke="#d4d4d4" strokeWidth={1} />
      ))}
      {/* series */}
      <g clipPath={`url(#${id})`} fill="none" strokeWidth={1.3} strokeLinejoin="round">
        {paths.map((d, k) => (
          <g key={k}>
            <path d={d} stroke={colors[k]} />
            {k === 9 && bursts.map((b, j) => (
              <path key={j} d={line([[b.t, b.hi], [b.t, b.lo]]) || ''} stroke={colors[9]} strokeWidth={1.5} />
            ))}
          </g>
        ))}
      </g>
      {/* frame */}
      <rect x={left} y={TOP} width={right - left} height={BOTTOM - TOP} fill="none" stroke="#3a3a3a" strokeWidth={1} />
      {/* y ticks */}
      {yTicks.map(t => (
        <g key={'yt' + t}>
          <line x1={left - 3.3} x2={left} y1={y(t)} y2={y(t)} stroke="#3a3a3a" />
          {yTickLabels && (
            <text x={left - 6} y={y(t)} dy="0.35em" textAnchor="end" fontSize={9.2} fontFamily={FONT} fill="#222">
              {fmt(t)}
            </text>
          )}
        </g>
      ))}
      {/* x ticks */}
      {xTicks.map(t => (
        <g key={'xt' + t}>
          <line x1={x(t)} x2={x(t)} y1={BOTTOM} y2={BOTTOM + 3.3} stroke="#3a3a3a" />
          <text x={x(t)} y={BOTTOM + 14.5} textAnchor="middle" fontSize={9.2} fontFamily={FONT} fill="#222">
            {fmt(t)}
          </text>
        </g>
      ))}
      <text x={(left + right) / 2} y={BOTTOM + 26} textAnchor="middle" fontSize={9.2} fontFamily={FONT} fill="#222">
        Time [s]
      </text>
      <text
        transform={`translate(${yLabelX},${(TOP + BOTTOM) / 2}) rotate(-90)`}
        textAnchor="middle" dy="0.35em" fontSize={9.2} fontFamily={FONT} fill="#222">
        Power [dBFS]
      </text>
      <text x={(left + right) / 2} y={14.5} textAnchor="middle" fontSize={11} fontFamily={FONT} fill="#222">
        {title}
      </text>
      {/* legend */}
      <g>
        <rect x={legendX} y={legendTop} width={legendW} height={rowH * fileNames.length + 4}
          rx={3} fill="#ffffff" fillOpacity={0.8} stroke="#cccccc" strokeWidth={1} />
        {fileNames.map((name, k) => {
          const cy = legendTop + 9.7 + k * rowH;
          return (
            <g key={name}>
              <line x1={legendX + 3.5} x2={legendX + 23} y1={cy} y2={cy} stroke={colors[k]} strokeWidth={1.6} />
              <text x={legendX + 30} y={cy} dy="0.35em" fontSize={9.2} fontFamily={FONT} fill="#222">
                {name}
              </text>
            </g>
          );
        })}
      </g>
    </g>
  );
}

export default function App() {
  return (
    <svg width={840} height={587} viewBox="0 0 840 587"
      style={{ position: 'absolute', left: 0, top: 0, display: 'block', background: '#fff' }}>
      <rect x={0} y={0} width={840} height={587} fill="#fff" />
      <Panel id="clipFull" title="Full spectrum" left={49} right={427} xDomain={[0.1, 67.2]}
        xTicks={xTicksFull} series={seriesFull} spans={spansFull} bursts={burstsFull}
        legendX={204} yTickLabels={true} yLabelX={13} />
      <Panel id="clipChan" title="125 kHz channel" left={465.7} right={844.3} xDomain={[0, 67.2]}
        xTicks={xTicksChan} series={seriesChan} spans={spansChan} bursts={burstsChan}
        legendX={470} yTickLabels={false} yLabelX={453} />
    </svg>
  );
}
